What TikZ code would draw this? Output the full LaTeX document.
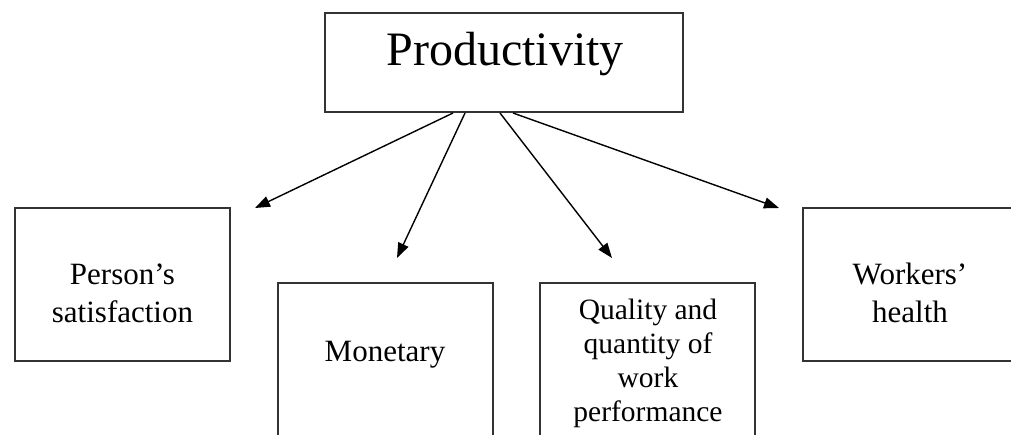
\documentclass[tikz,border=0pt]{standalone}
\usepackage{fontspec}
\setmainfont{Liberation Serif}
\usetikzlibrary{arrows.meta}
\definecolor{edge}{HTML}{333333}
\begin{document}
\begin{tikzpicture}[x=1pt,y=-1pt,
  box/.style={draw=edge,line width=2pt,minimum width=215pt,minimum height=153pt,inner sep=0pt},
  label/.style={align=center,inner sep=0pt,text=black},
  link/.style={draw=black,line width=1.4pt,-{Triangle[length=15pt,width=11pt]}}]
  \useasboundingbox (0,0) rectangle (1011,434);
  \clip (0,0) rectangle (1011,434);
  % top box
  \node[draw=edge,line width=2pt,minimum width=358pt,minimum height=99pt,inner sep=0pt] (prod) at (504,62.5) {};
  \node[label,anchor=base,font=\fontsize{48}{54}\selectfont] (prodtxt) at (505,65) {Productivity};
  % lower boxes
  \node[box] (pers) at (122.5,284.5) {};
  \node[box] (mon) at (385,359.5) {};
  \node[box] (qual) at (647.5,359.5) {};
  \node[box] (work) at (910.5,284.5) {};
  % their texts
  \node[label,font=\fontsize{31}{38}\selectfont] (perstxt) at (122.5,293.5) {Person’s\\satisfaction};
  \node[label,font=\fontsize{31}{38}\selectfont] (montxt) at (385,355) {Monetary};
  \node[label,font=\fontsize{29.5}{34}\selectfont] (qualtxt) at (648,363) {Quality and\\quantity of\\work\\performance};
  \node[label,font=\fontsize{31}{38}\selectfont] (worktxt) at (910,292.5) {Workers’\\health};
  % arrow tips stop short of the boxes
  \coordinate (t1) at (255,208);
  \coordinate (t2) at (397,258);
  \coordinate (t3) at (612,258);
  \coordinate (t4) at (779,208);
  \draw[link] ([xshift=-51pt]prod.south) -- (t1);
  \draw[link] ([xshift=-39pt]prod.south) -- (t2);
  \draw[link] ([xshift=-4pt]prod.south) -- (t3);
  \draw[link] ([xshift=9pt]prod.south) -- (t4);
\end{tikzpicture}
\end{document}
